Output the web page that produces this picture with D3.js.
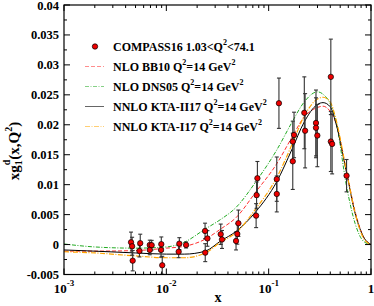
<!DOCTYPE html>
<html>
<head>
<meta charset="utf-8">
<script src="https://cdn.jsdelivr.net/npm/d3@7"></script>
<style>
  body { margin: 0; background: #fff; }
  text { font-family: "Liberation Serif", "Times New Roman", serif; font-weight: bold; }
</style>
</head>
<body>
<div id="chart"></div>
<script>
// COMPASS16 deuteron data
const dataX = [0.00452, 0.00463, 0.00469, 0.00556, 0.00546, 0.00689, 0.00719, 0.00689,
  0.00893, 0.00888, 0.00912, 0.0134, 0.0132, 0.0156, 0.0239, 0.0252, 0.0240, 0.0340,
  0.0350, 0.0480, 0.0506, 0.0494, 0.0754, 0.0762, 0.0776, 0.120, 0.120, 0.126,
  0.172, 0.172, 0.177, 0.223, 0.227, 0.290, 0.290, 0.299, 0.405, 0.405, 0.417, 0.577];
const dataY = [0.00038, -0.00028, -0.00269, 0.00023, -0.00107, -0.00007, -0.0001, -0.0009,
  0.00007, -0.0009, -0.00346, 0.00015, -0.00119, -0.00007, 0.00227, 0.00102, -0.00135, 0.00172,
  0.00085, 0.0006, 0.00356, 0.00177, 0.00483, 0.00825, 0.01107, 0.01092, 0.00845, 0.0236,
  0.0139, 0.0172, 0.0183, 0.0220, 0.0190, 0.0203, 0.0195, 0.0182, 0.0280, 0.0172, 0.0168, 0.0115];
const dataErr = [0.0017, 0.0015, 0.0017, 0.0015, 0.0010, 0.0008, 0.0008, 0.0008,
  0.0012, 0.0012, 0.0015, 0.0010, 0.0010, 0.0005, 0.0013, 0.0013, 0.0015, 0.0017,
  0.0015, 0.0015, 0.0022, 0.0017, 0.0020, 0.0022, 0.0028, 0.0037, 0.0030, 0.0042,
  0.0047, 0.0034, 0.0038, 0.0060, 0.0062, 0.0055, 0.0050, 0.0052, 0.0063, 0.0050, 0.0050, 0.0027];

// fit curves at Q^2 = 14 GeV^2
const curveX = [0.001, 0.002, 0.005, 0.01, 0.015, 0.024, 0.034, 0.048, 0.075, 0.12,
  0.17, 0.22, 0.3, 0.34, 0.4, 0.45, 0.58, 0.7, 0.85, 1.0];
const bb10 = [-0.0011, -0.0011, -0.0010, -0.0006, -0.0003, 0.0009, 0.0026, 0.0045, 0.0088, 0.0135,
  0.0180, 0.0212, 0.0229, 0.0231, 0.0222, 0.0205, 0.0120, 0.0055, 0.0012, 0];
const dns05 = [0.0001, -0.0004, -0.0006, -0.0004, 0.0004, 0.0026, 0.0042, 0.0062, 0.0105, 0.0158,
  0.0205, 0.0237, 0.0255, 0.0251, 0.0235, 0.0210, 0.0095, 0.0035, 0.0005, 0];
const ktaII17 = [-0.0009, -0.0011, -0.0014, -0.0016, -0.0016, -0.0011, 0.0006, 0.0022, 0.0055, 0.0105,
  0.0160, 0.0203, 0.0234, 0.0237, 0.0230, 0.0205, 0.0118, 0.0052, 0.0012, 0];
const ktaI17 = [-0.0012, -0.0014, -0.0019, -0.0022, -0.0022, -0.0014, 0.0004, 0.0020, 0.0060, 0.0112,
  0.0168, 0.0213, 0.0243, 0.0246, 0.0238, 0.0212, 0.0120, 0.0052, 0.0010, 0];

const width = 374, height = 306;
const margin = { left: 64, right: 3, top: 5, bottom: 31.5 };

const svg = d3.select("#chart").append("svg")
    .attr("width", width)
    .attr("height", height);

const x = d3.scaleLog().domain([1e-3, 1]).range([margin.left, width - margin.right]);
const y = d3.scaleLinear().domain([-0.005, 0.04]).range([height - margin.bottom, margin.top]);

const [x0, x1] = x.range();
const [y0, y1] = y.range();

// clip for curves
svg.append("clipPath").attr("id", "clip")
  .append("rect").attr("x", x0).attr("y", y1).attr("width", x1 - x0).attr("height", y0 - y1);

// theory curves
const series = [
  { name: "NLO BB10", values: bb10, color: "#ff3030", dash: "4,2", width: 1 },
  { name: "NLO DNS05", values: dns05, color: "#22aa22", dash: "4,1.5,1,1.5", width: 1 },
  { name: "NNLO KTA-II17", values: ktaII17, color: "#000000", dash: null, width: 1 },
  { name: "NNLO KTA-I17", values: ktaI17, color: "#ffa500", dash: "5,1.5,1,1.5", width: 1.2 }
];

const line = d3.line()
  .x(d => x(d[0]))
  .y(d => y(d[1]))
  .curve(d3.curveMonotoneX);

const curves = svg.append("g").attr("clip-path", "url(#clip)");
series.forEach(s => {
  curves.append("path")
    .datum(curveX.map((cx, i) => [cx, s.values[i]]))
    .attr("fill", "none")
    .attr("stroke", s.color)
    .attr("stroke-width", s.width)
    .attr("stroke-dasharray", s.dash)
    .attr("d", line);
});

// error bars
const points = dataX.map((d, i) => ({ x: d, y: dataY[i], e: dataErr[i] }));
const bars = svg.append("g").attr("stroke", "#333").attr("stroke-width", 1.1);
bars.selectAll("line.err")
  .data(points)
  .join("line")
    .attr("x1", d => x(d.x)).attr("x2", d => x(d.x))
    .attr("y1", d => y(d.y - d.e)).attr("y2", d => y(d.y + d.e));
bars.selectAll("line.capTop")
  .data(points)
  .join("line").attr("class", "capTop")
    .attr("x1", d => x(d.x) - 2).attr("x2", d => x(d.x) + 2)
    .attr("y1", d => y(d.y + d.e)).attr("y2", d => y(d.y + d.e));
bars.selectAll("line.capBot")
  .data(points)
  .join("line").attr("class", "capBot")
    .attr("x1", d => x(d.x) - 2).attr("x2", d => x(d.x) + 2)
    .attr("y1", d => y(d.y - d.e)).attr("y2", d => y(d.y - d.e));

svg.append("g").selectAll("circle")
  .data(points)
  .join("circle")
    .attr("cx", d => x(d.x))
    .attr("cy", d => y(d.y))
    .attr("r", 2.7)
    .attr("fill", "#ee0000")
    .attr("stroke", "#000")
    .attr("stroke-width", 0.7);

// frame
svg.append("rect")
  .attr("x", x0).attr("y", y1)
  .attr("width", x1 - x0).attr("height", y0 - y1)
  .attr("fill", "none").attr("stroke", "#000").attr("stroke-width", 1.2);

// ticks
const isMajorY = t => Math.abs(t / 0.005 - Math.round(t / 0.005)) < 1e-6;
const tickG = svg.append("g").attr("stroke", "#000").attr("stroke-width", 1);
x.ticks().forEach(t => {
  const major = Math.abs(Math.log10(t) - Math.round(Math.log10(t))) < 1e-6;
  const len = major ? 6 : 3;
  tickG.append("line").attr("x1", x(t)).attr("x2", x(t)).attr("y1", y0).attr("y2", y0 - len);
  tickG.append("line").attr("x1", x(t)).attr("x2", x(t)).attr("y1", y1).attr("y2", y1 + len);
});
const yTicks = d3.range(19).map(i => -0.005 + i * 0.0025);
yTicks.forEach(t => {
  const len = isMajorY(t) ? 6 : 3;
  tickG.append("line").attr("x1", x0).attr("x2", x0 + len).attr("y1", y(t)).attr("y2", y(t));
  tickG.append("line").attr("x1", x1).attr("x2", x1 - len).attr("y1", y(t)).attr("y2", y(t));
});

// y tick labels
svg.append("g").selectAll("text")
  .data(yTicks.filter(isMajorY))
  .join("text")
    .attr("x", x0 - 5)
    .attr("y", d => y(d) + 4.5)
    .attr("text-anchor", "end")
    .attr("font-size", 12.5)
    .text(d => String(+d.toFixed(4)));

// x tick labels
const xMajor = [1e-3, 1e-2, 1e-1, 1];
const xl = svg.append("g").selectAll("text")
  .data(xMajor)
  .join("text")
    .attr("x", d => x(d))
    .attr("y", 293)
    .attr("text-anchor", "middle")
    .attr("font-size", 13);
xl.each(function(d) {
  const e = Math.round(Math.log10(d));
  const t = d3.select(this);
  if (e === 0) { t.text("1"); return; }
  t.append("tspan").text("10");
  t.append("tspan").attr("font-size", 9).attr("dy", -7).text(String(e));
});

// axis titles
svg.append("text")
  .attr("x", 218).attr("y", 302)
  .attr("text-anchor", "middle")
  .attr("font-size", 14)
  .text("x");

const yt = svg.append("text")
  .attr("transform", "translate(19,151) rotate(-90)")
  .attr("text-anchor", "middle")
  .attr("font-size", 15);
yt.append("tspan").text("xg");
yt.append("tspan").attr("font-size", 10).attr("dy", 3).text("1");
yt.append("tspan").attr("font-size", 10).attr("dx", -5).attr("dy", -12).text("d");
yt.append("tspan").attr("dy", 9).text("(x,Q");
yt.append("tspan").attr("font-size", 10).attr("dy", -7).text("2");
yt.append("tspan").attr("dy", 7).text(")");

// legend
const legendRows = [
  { label: "COMPASS16 1.03<Q", sup: "2", tail: "<74.1", marker: true },
  ...series.map(s => ({ label: s.name + " Q", sup: "2", tail: "=14 GeV", sup2: "2", s }))
];
const legend = svg.append("g");
legendRows.forEach((r, i) => {
  const ly = 46.5 + i * 20;
  if (r.marker) {
    legend.append("circle").attr("cx", 95).attr("cy", ly).attr("r", 2.7)
      .attr("fill", "#ee0000").attr("stroke", "#000").attr("stroke-width", 0.7);
  } else {
    legend.append("line").attr("x1", 85).attr("x2", 104).attr("y1", ly).attr("y2", ly)
      .attr("stroke", r.s.color).attr("stroke-width", r.s.width)
      .attr("stroke-dasharray", r.s.dash).attr("stroke-opacity", r.s.color === "#000000" ? 0.6 : 0.55);
  }
  const t = legend.append("text").attr("x", 113).attr("y", ly + 4).attr("font-size", 12);
  t.append("tspan").text(r.label);
  t.append("tspan").attr("font-size", 8).attr("dy", -6).text(r.sup);
  t.append("tspan").attr("dy", 6).text(r.tail);
  if (r.sup2) t.append("tspan").attr("font-size", 8).attr("dy", -6).text(r.sup2);
});
</script>
</body>
</html>
